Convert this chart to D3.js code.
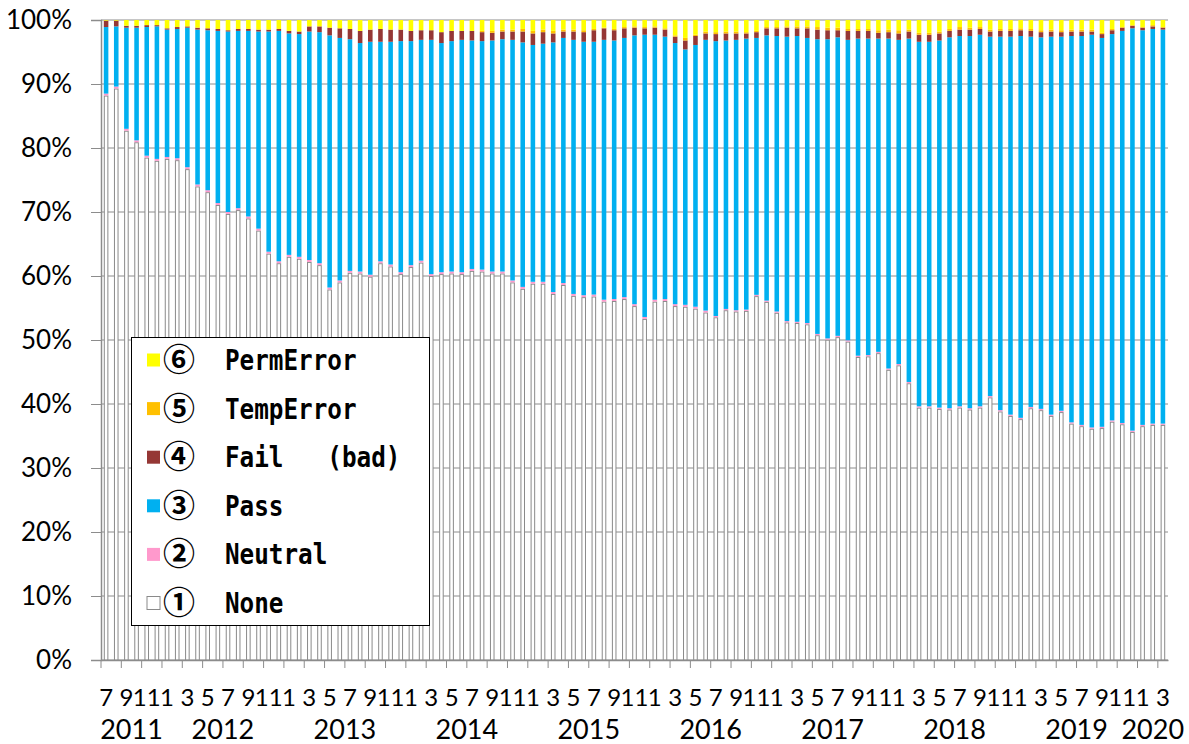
<!DOCTYPE html>
<html>
<head>
<meta charset="utf-8">
<script src="https://d3js.org/d3.v7.min.js"></script>
<style>
  body { margin: 0; background: #fff; }
  svg { display: block; }
</style>
</head>
<body>
<script>
// months from 2011-07 to 2020-03
var years = ["2011","2012","2013","2014","2015","2016","2017","2018","2019","2020"];
var categories = [];
years.forEach(function (yr) {
    for (var m = 1; m <= 12; m++) {
        var key = +yr * 100 + m;
        if (key >= 201107 && key <= 202003) categories.push({year: yr, month: m});
    }
});
var tickLabels = categories.filter(function (d, i) { return i % 2 === 0; })
                           .map(function (d) { return String(d.month); });

// percentages (one value per month)
var noneVals = [88.2,89.3,82.7,80.9,78.5,78.0,78.3,78.1,76.7,74.0,
    73.1,71.1,69.7,70.3,69.0,67.1,63.5,62.0,63.0,62.7,
    62.2,61.7,57.9,59.0,60.5,60.4,59.9,62.0,61.5,60.3,
    61.4,62.1,60.0,60.3,60.4,60.3,60.8,60.7,60.4,60.4,
    59.0,58.0,58.8,58.8,57.2,58.6,56.9,56.7,56.8,56.0,
    56.1,56.4,55.3,53.3,56.0,56.1,55.3,55.2,54.9,54.3,
    53.5,54.6,54.4,54.5,56.8,55.9,54.2,52.7,52.6,52.4,
    50.7,50.0,50.4,49.7,47.3,47.4,47.9,45.3,46.0,43.2,
    39.4,39.4,39.2,39.1,39.4,39.1,39.4,41.0,38.8,38.1,
    37.6,39.3,39.0,38.1,38.7,36.9,36.5,36.1,36.2,37.2,
    36.8,35.6,36.5,36.7,36.7];
var neutralVals = [0.3,0.3,0.3,0.3,0.3,0.3,0.3,0.3,0.3,0.3,
    0.3,0.3,0.3,0.3,0.3,0.3,0.3,0.3,0.3,0.3,
    0.3,0.3,0.3,0.3,0.3,0.3,0.3,0.3,0.3,0.3,
    0.3,0.3,0.3,0.3,0.3,0.3,0.3,0.3,0.3,0.3,
    0.3,0.3,0.3,0.3,0.3,0.3,0.3,0.3,0.3,0.3,
    0.3,0.3,0.3,0.3,0.3,0.3,0.3,0.3,0.3,0.3,
    0.2,0.2,0.2,0.2,0.2,0.2,0.2,0.2,0.2,0.2,
    0.2,0.2,0.2,0.2,0.2,0.2,0.2,0.2,0.2,0.2,
    0.2,0.2,0.2,0.2,0.2,0.2,0.2,0.2,0.2,0.2,
    0.2,0.2,0.2,0.2,0.2,0.2,0.2,0.2,0.2,0.2,
    0.2,0.2,0.2,0.2,0.2];
var passVals = [10.4,9.4,15.8,17.6,20.1,20.7,19.9,20.2,21.8,24.2,
    25.0,26.9,28.2,27.7,29.0,30.8,34.4,36.0,34.6,34.8,
    35.7,36.1,39.4,37.9,36.2,35.7,36.4,34.3,34.8,36.1,
    35.0,34.5,36.6,35.8,36.0,36.3,35.7,35.7,36.1,36.3,
    37.6,38.2,37.0,37.2,39.0,38.3,39.7,39.6,39.5,40.6,
    40.4,40.5,42.0,44.1,41.4,41.0,40.8,39.9,40.9,42.3,
    42.9,41.9,42.2,42.3,40.1,41.4,43.0,44.4,44.6,44.5,
    46.0,46.7,46.6,46.9,49.5,49.4,48.9,51.5,50.6,53.6,
    56.9,56.9,57.3,57.9,57.8,58.1,58.0,56.1,58.3,59.0,
    59.6,57.8,58.0,59.0,58.4,60.3,60.7,61.3,60.7,60.3,
    61.2,62.8,61.6,61.6,61.5];
var failVals = [1.0,0.9,0.3,0.3,0.3,0.2,0.2,0.3,0.2,0.3,
    0.3,0.3,0.2,0.3,0.3,0.3,0.3,0.3,0.4,0.4,
    0.8,0.9,1.2,1.5,1.6,1.9,1.9,2.0,1.9,1.8,
    1.6,1.5,1.5,1.7,1.6,1.4,1.5,1.4,1.2,1.2,
    1.3,1.7,1.8,1.8,1.4,1.0,1.3,1.5,1.8,1.8,
    1.6,1.5,1.2,1.0,1.1,1.1,1.0,1.4,1.4,1.0,
    1.1,1.1,1.0,0.8,0.9,1.1,1.2,1.4,1.2,1.5,
    1.5,1.4,1.1,1.4,1.2,1.2,0.9,1.0,1.0,1.1,
    1.1,1.1,1.1,1.0,1.0,1.0,0.9,0.8,0.9,0.9,
    0.9,0.9,0.8,0.8,0.7,0.7,0.7,0.5,0.6,0.6,
    0.5,0.4,0.4,0.4,0.3];
var tempVals = [0,0,0,0,0,0,0,0,0,0,
    0,0,0,0,0,0,0,0,0,0,
    0,0,0,0,0,0,0,0,0,0,
    0,0,0,0,0,0,0,0.2,0.3,0.3,
    0.3,0.4,0.4,0.4,0.4,0.3,0.3,0.3,0.2,0.1,
    0.2,0.2,0.2,0.2,0.2,0.2,0.2,0.4,0.2,0.3,
    0.3,0.3,0.3,0.2,0.2,0.2,0.2,0.2,0.3,0.3,
    0.4,0.4,0.4,0.3,0.3,0.3,0.4,0.4,0.5,0.3,
    0.3,0.3,0.3,0.3,0.4,0.3,0.3,0.3,0.3,0.3,
    0.3,0.3,0.3,0.3,0.3,0.3,0.3,0.3,0.2,0.2,
    0.1,0.1,0.1,0.2,0.1];
var permVals = [0.1,0.1,0.9,0.9,0.8,0.8,1.3,1.1,1.0,1.2,
    1.3,1.4,1.6,1.4,1.4,1.5,1.5,1.4,1.7,1.8,
    1.0,1.0,1.2,1.3,1.4,1.7,1.5,1.4,1.5,1.5,
    1.7,1.6,1.6,1.9,1.7,1.7,1.7,1.7,1.7,1.5,
    1.5,1.4,1.7,1.5,1.7,1.5,1.5,1.6,1.4,1.2,
    1.4,1.1,1.0,1.1,1.0,1.3,2.4,2.8,2.3,1.8,
    1.9,1.8,1.8,1.9,1.7,1.1,1.1,1.0,1.0,1.0,
    1.1,1.2,1.2,1.4,1.4,1.4,1.6,1.5,1.6,1.5,
    2.0,2.0,1.8,1.4,1.1,1.2,1.1,1.5,1.4,1.4,
    1.3,1.4,1.6,1.5,1.6,1.5,1.5,1.5,2.0,1.4,
    1.1,0.8,1.1,0.8,1.1];

var seriesKeys = ["none", "neutral", "pass", "fail", "temp", "perm"];
var seriesNames = ["None", "Neutral", "Pass", "Fail   (bad)", "TempError", "PermError"];
var seriesMarks = ["①", "②", "③", "④", "⑤", "⑥"];
var seriesColors = ["#ffffff", "#ff99cc", "#00b0f0", "#953735", "#ffc000", "#ffff00"];

var rows = categories.map(function (c, i) {
    return {i: i, none: noneVals[i], neutral: neutralVals[i], pass: passVals[i],
            fail: failVals[i], temp: tempVals[i], perm: permVals[i]};
});

var W = 1189, H = 744;
var plotL = 101, plotR = 1168, plotT = 20, plotB = 660;
var labelFont = "Lato, 'Open Sans', sans-serif";

var svg = d3.select("body").append("svg").attr("width", W).attr("height", H);

var x = d3.scaleBand().domain(d3.range(categories.length))
    .range([plotL, plotR]).paddingInner(0.55).paddingOuter(0.275);
var y = d3.scaleLinear().domain([0, 1]).range([plotB, plotT]);
var color = d3.scaleOrdinal().domain(seriesKeys).range(seriesColors);

// gridlines
var yTicks = d3.range(0, 11).map(function (k) { return k / 10; });
svg.append("g").selectAll("line").data(yTicks).enter().append("line")
    .attr("x1", plotL).attr("x2", plotR)
    .attr("y1", function (d) { return y(d); }).attr("y2", function (d) { return y(d); })
    .attr("stroke", "#8c8c8c").attr("stroke-width", 1);

// stacked bars
var stacked = d3.stack().keys(seriesKeys).offset(d3.stackOffsetExpand)(rows);
var layers = svg.append("g").selectAll("g").data(stacked).enter().append("g")
    .attr("fill", function (d) { return color(d.key); });
layers.selectAll("rect").data(function (d) { return d; }).enter().append("rect")
    .attr("x", function (d) { return x(d.data.i); })
    .attr("width", x.bandwidth())
    .attr("y", function (d) { return y(d[1]); })
    .attr("height", function (d) { return Math.max(0, y(d[0]) - y(d[1])); });
layers.filter(function (d) { return d.key === "none"; }).selectAll("rect")
    .attr("stroke", "#8a8a8a").attr("stroke-width", 1)
    .attr("x", function (d) { return x(d.data.i) + 0.5; })
    .attr("width", x.bandwidth() - 1)
    .attr("y", function (d) { return y(d[1]) + 0.5; })
    .attr("height", function (d) { return y(d[0]) - y(d[1]) - 0.5; });

// y axis
var yAxis = svg.append("g").attr("transform", "translate(" + plotL + ",0)")
    .call(d3.axisLeft(y).tickValues(yTicks).tickFormat(d3.format(".0%"))
        .tickSize(10).tickPadding(19));
yAxis.select(".domain").attr("stroke", "#8c8c8c").attr("stroke-width", 1.5);
yAxis.selectAll(".tick line").attr("stroke", "#8c8c8c");
yAxis.selectAll("text").attr("font-family", labelFont).attr("font-size", 26)
    .attr("fill", "#000");

// x axis
var evenIdx = d3.range(0, categories.length, 2);
var xAxis = svg.append("g").attr("transform", "translate(0," + plotB + ")")
    .call(d3.axisBottom(x).tickValues(evenIdx)
        .tickFormat(function (d, k) { return tickLabels[k]; })
        .tickSize(0).tickPadding(29));
xAxis.select(".domain").attr("stroke", "#8c8c8c").attr("stroke-width", 1.5);
xAxis.selectAll("text").attr("font-family", labelFont).attr("font-size", 24)
    .attr("fill", "#000");
svg.append("g").selectAll("line").data(evenIdx).enter().append("line")
    .attr("x1", function (d) { return plotL + d * x.step(); })
    .attr("x2", function (d) { return plotL + d * x.step(); })
    .attr("y1", plotB).attr("y2", plotB + 8)
    .attr("stroke", "#8c8c8c");

// year labels centered under their months
svg.append("g").selectAll("text").data(years).enter().append("text")
    .attr("x", function (yr) {
        var idx = categories.map(function (c, i) { return c.year === yr ? i : -1; })
            .filter(function (i) { return i >= 0; });
        return (x(idx[0]) + x(idx[idx.length - 1]) + x.bandwidth()) / 2;
    })
    .attr("y", 739)
    .attr("text-anchor", "middle")
    .attr("font-family", labelFont).attr("font-size", 27)
    .text(function (d) { return d; });

// legend
var legend = svg.append("g");
legend.append("rect").attr("x", 131.5).attr("y", 337.5).attr("width", 298).attr("height", 288)
    .attr("fill", "#fff").attr("stroke", "#000").attr("stroke-width", 1);
var order = [5, 4, 3, 2, 1, 0];
var items = legend.selectAll("g.item").data(order).enter().append("g")
    .attr("class", "item")
    .attr("transform", function (d, k) { return "translate(0," + (360 + 48.6 * k) + ")"; });
items.append("rect").attr("x", 147).attr("y", -6.5).attr("width", 13).attr("height", 13)
    .attr("fill", function (d) { return seriesColors[d]; })
    .attr("stroke", function (d) { return d === 0 ? "#8a8a8a" : "none"; });
items.append("text").attr("x", 163).attr("y", 11)
    .attr("font-family", "'Noto Sans CJK JP', sans-serif").attr("font-size", 32)
    .attr("font-weight", "bold")
    .text(function (d) { return seriesMarks[d]; });
items.append("text")
    .attr("transform", "translate(225,10) scale(0.9,1.05)")
    .attr("font-family", "'DejaVu Sans Mono', 'Liberation Mono', monospace")
    .attr("font-size", 27).attr("font-weight", "bold")
    .style("white-space", "pre")
    .text(function (d) { return seriesNames[d]; });
</script>
</body>
</html>
